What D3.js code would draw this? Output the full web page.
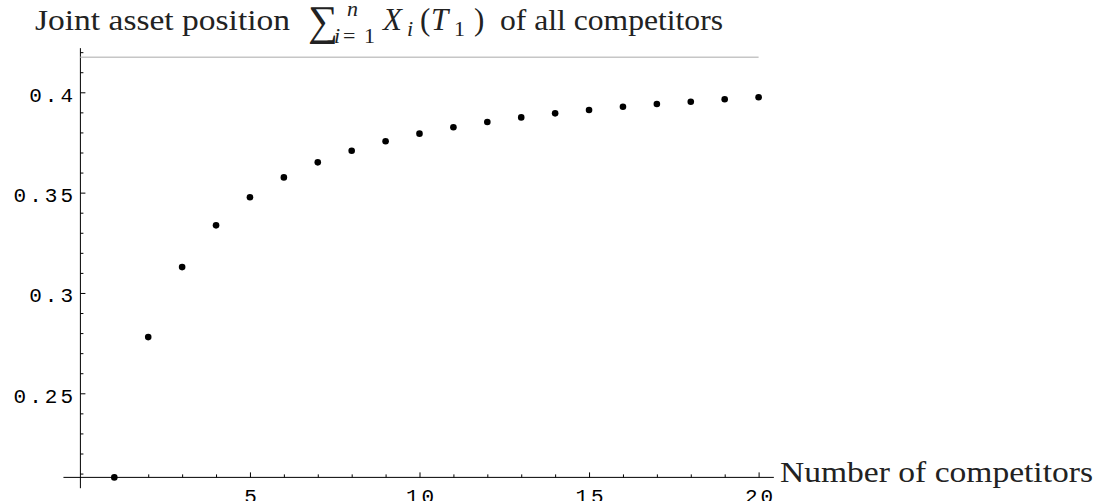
<!DOCTYPE html>
<html>
<head>
<meta charset="utf-8">
<script src="https://cdn.jsdelivr.net/npm/d3@7"></script>
<style>
  body { margin: 0; background: #fff; }
  .tick text { font-family: "Liberation Mono", monospace; font-size: 21px; letter-spacing: 3px; fill: #000; }
  .tick line { stroke: #000; stroke-width: 1; }
  .serif { font-family: "Liberation Serif", "DejaVu Serif", serif; fill: #222; }
</style>
</head>
<body>
<svg id="chart" width="1095" height="501"></svg>
<script>
var competitors = [1, 2, 3, 4, 5, 6, 7, 8, 9, 10, 11, 12, 13, 14, 15, 16, 17, 18, 19, 20];
var assetPosition = [0.2081, 0.2780, 0.3129, 0.3337, 0.3477, 0.3576, 0.3651, 0.3709, 0.3756, 0.3794,
                     0.3826, 0.3852, 0.3875, 0.3895, 0.3912, 0.3928, 0.3942, 0.3953, 0.3965, 0.3975];
var limitLevel = 0.4175;

var xMajorTicks = [5, 10, 15, 20];
var xMinorTicks = [1, 2, 3, 4, 6, 7, 8, 9, 11, 12, 13, 14, 16, 17, 18, 19];
var yMajorTicks = [0.25, 0.3, 0.35, 0.4];
var yTickLabels = ["0.25", "0.3", "0.35", "0.4"];
var yMinorTicks = [0.21, 0.22, 0.23, 0.24, 0.26, 0.27, 0.28, 0.29, 0.31, 0.32, 0.33, 0.34,
                   0.36, 0.37, 0.38, 0.39, 0.41, 0.42];

var svg = d3.select("svg#chart");

var x = d3.scaleLinear().domain([0, 20]).range([80.4, 758.6]);
var y = d3.scaleLinear().domain([0.25, 0.4]).range([393.3, 92.3]);

var x0 = x(0), y0 = y(assetPosition[0]);

// axis lines (slightly past the plot range, like Mathematica)
svg.append("line")
    .attr("x1", x0).attr("x2", x0)
    .attr("y1", y(0.422)).attr("y2", y(0.2027))
    .attr("stroke", "#000");
svg.append("line")
    .attr("x1", x(-0.5)).attr("x2", x(20.45))
    .attr("y1", y0).attr("y2", y0)
    .attr("stroke", "#000");

// x ticks
svg.append("g")
    .attr("transform", "translate(0," + y0 + ")")
    .call(d3.axisBottom(x).tickValues(xMinorTicks).tickSize(-3).tickFormat(""))
    .call(function(g) { g.select(".domain").remove(); });

svg.append("g")
    .attr("transform", "translate(0," + y0 + ")")
    .call(d3.axisBottom(x).tickValues(xMajorTicks).tickSize(-5).tickFormat(d3.format("d")))
    .call(function(g) { g.select(".domain").remove(); })
  .selectAll("text")
    .attr("y", 503 - y0)
    .attr("dy", null)
    .attr("dx", 1.5);

// y ticks
svg.append("g")
    .attr("transform", "translate(" + x0 + ",0)")
    .call(d3.axisLeft(y).tickValues(yMinorTicks).tickSize(-3).tickFormat(""))
    .call(function(g) { g.select(".domain").remove(); });

svg.append("g")
    .attr("transform", "translate(" + x0 + ",0)")
    .call(d3.axisLeft(y).tickValues(yMajorTicks).tickSize(-5)
      .tickFormat(function(d, i) { return yTickLabels[i]; }))
    .call(function(g) { g.select(".domain").remove(); })
  .selectAll("text")
    .attr("x", -4.4)
    .attr("dy", 9);

// limit line
svg.append("line")
    .attr("x1", x(0)).attr("x2", x(20))
    .attr("y1", y(limitLevel)).attr("y2", y(limitLevel))
    .attr("stroke", "#c6c6c6")
    .attr("stroke-width", 1.5);

// points
svg.append("g")
  .selectAll("circle")
  .data(competitors)
  .enter().append("circle")
    .attr("cx", function(d) { return x(d); })
    .attr("cy", function(d, i) { return y(assetPosition[i]); })
    .attr("r", 3.3)
    .attr("fill", "#000");

// title
var tb = 30;
function part(str, px, py, size, italic, len) {
  var t = svg.append("text")
      .attr("class", "serif")
      .attr("x", px).attr("y", py)
      .attr("font-size", size)
      .attr("font-style", italic ? "italic" : null)
      .text(str);
  if (len) t.attr("textLength", len).attr("lengthAdjust", "spacingAndGlyphs");
  return t;
}
part("Joint asset position", 35, tb, 30, false, 255);
part("\u2211", 308, tb + 5, 42, false);
part("n", 347, tb - 14, 22, true);
part("i", 334, tb + 13, 22, true);
part("=", 343, tb + 13, 22, false);
part("1", 364, tb + 13, 22, false);
part("X", 383, tb, 31, true);
part("i", 407, tb + 6, 22, true);
part("(", 420, tb, 31, false);
part("T", 431, tb, 31, true);
part("1", 454, tb + 6, 22, false);
part(")", 474, tb, 31, false);
part("of all competitors", 500, tb, 30, false, 223);

// x axis label
part("Number of competitors", 780, 482, 30, false, 313);
</script>
</body>
</html>
